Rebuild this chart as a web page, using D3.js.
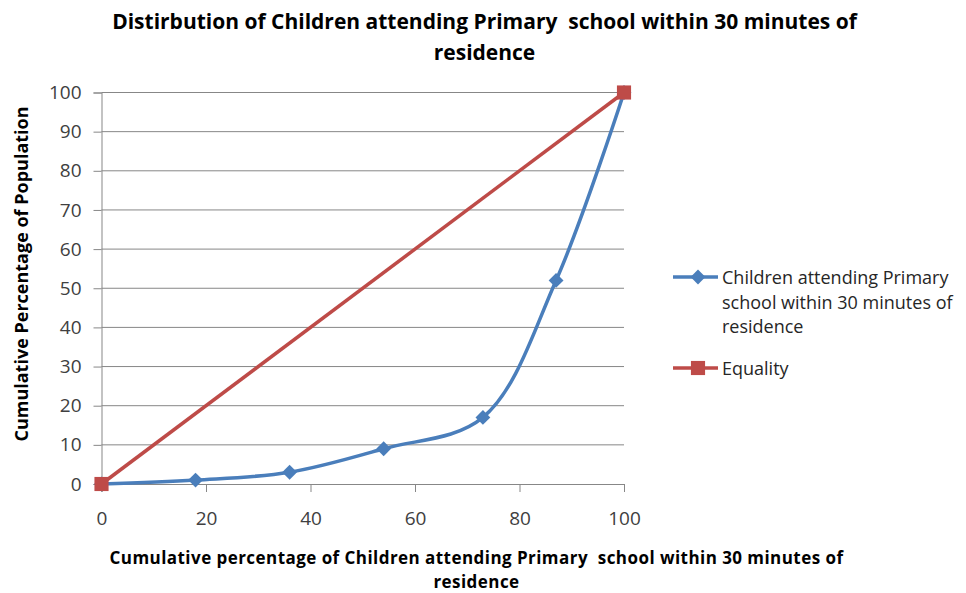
<!DOCTYPE html>
<html>
<head>
<meta charset="utf-8">
<script src="https://cdn.jsdelivr.net/npm/d3@7"></script>
<style>
  body { margin: 0; background: #fff; }
  svg { font-family: "Open Sans", sans-serif; }
</style>
</head>
<body>
<div id="plot"></div>
<script>
var childX = [0, 18, 36, 54, 73, 87, 100];
var childY = [0, 1, 3, 9, 17, 52, 100];
var equalX = [0, 100];
var equalY = [0, 100];
var xTicks = [0, 20, 40, 60, 80, 100];
var yTicks = [0, 10, 20, 30, 40, 50, 60, 70, 80, 90, 100];

var W = 966, H = 593;
var margin = { top: 92.5, left: 101.5, right: 342, bottom: 109 };
var width = W - margin.left - margin.right,
    height = H - margin.top - margin.bottom;

var svg = d3.select("#plot").append("svg")
  .attr("width", W).attr("height", H);

var g = svg.append("g")
  .attr("transform", `translate(${margin.left},${margin.top})`);

var x = d3.scaleLinear().domain([0, 100]).range([0, width]);
var y = d3.scaleLinear().domain([0, 100]).range([height, 0]);

var gridColor = "#878787";

// horizontal gridlines
g.selectAll(".grid")
  .data(yTicks.filter(d => d > 0))
  .join("line")
  .attr("x1", 0).attr("x2", width)
  .attr("y1", d => y(d)).attr("y2", d => y(d))
  .attr("stroke", gridColor).attr("stroke-width", 1);

var yAxis = g.append("g")
  .call(d3.axisLeft(y).tickValues(yTicks).tickSize(8).tickPadding(12));
var xAxis = g.append("g")
  .attr("transform", `translate(0,${height})`)
  .call(d3.axisBottom(x).tickValues(xTicks).tickSize(8).tickPadding(20));

[xAxis, yAxis].forEach(function (a) {
  a.select(".domain").attr("stroke", gridColor);
  a.selectAll(".tick line").attr("stroke", gridColor);
  a.selectAll(".tick text")
    .attr("fill", "#404040")
    .style("font-size", "19px")
    .style("font-family", "'Open Sans', sans-serif");
});

var childData = childX.map((d, i) => ({ x: d, y: childY[i] }));
var equalData = equalX.map((d, i) => ({ x: d, y: equalY[i] }));

var blue = "#4A7EBB", red = "#BE4B48";

g.append("path")
  .datum(equalData)
  .attr("fill", "none")
  .attr("stroke", red)
  .attr("stroke-width", 3.5)
  .attr("d", d3.line().x(d => x(d.x)).y(d => y(d.y)));

g.append("path")
  .datum(childData)
  .attr("fill", "none")
  .attr("stroke", blue)
  .attr("stroke-width", 3.5)
  .attr("d", d3.line().curve(d3.curveCatmullRom.alpha(0.5)).x(d => x(d.x)).y(d => y(d.y)));

// diamond = square turned 45 degrees
var diamond = d3.symbol().type(d3.symbolSquare).size(110);
var square = d3.symbol().type(d3.symbolSquare).size(200);

g.selectAll(".dpt")
  .data(childData)
  .join("path")
  .attr("transform", d => `translate(${x(d.x)},${y(d.y)}) rotate(45)`)
  .attr("d", diamond)
  .attr("fill", blue);

g.selectAll(".spt")
  .data(equalData)
  .join("path")
  .attr("transform", d => `translate(${x(d.x)},${y(d.y)})`)
  .attr("d", square)
  .attr("fill", red);

// title (the typo is in the original)
var title = svg.append("text")
  .attr("text-anchor", "middle")
  .style("font-size", "21px")
  .style("font-weight", "bold")
  .attr("fill", "#000");
title.append("tspan").attr("x", 484.5).attr("y", 29)
  .text("Distirbution of Children attending Primary\u00a0 school within 30 minutes of");
title.append("tspan").attr("x", 484.5).attr("y", 60).text("residence");

// x axis title
var xt = svg.append("text")
  .attr("text-anchor", "middle")
  .style("font-size", "17px")
  .style("font-weight", "bold")
  .style("letter-spacing", "0.45px")
  .attr("fill", "#000");
xt.append("tspan").attr("x", 476.5).attr("y", 564)
  .text("Cumulative percentage of Children attending Primary\u00a0 school within 30 minutes of");
xt.append("tspan").attr("x", 476.5).attr("y", 588).text("residence");

// y axis title
svg.append("text")
  .attr("transform", "translate(28,274) rotate(-90)")
  .attr("text-anchor", "middle")
  .style("font-size", "18px")
  .style("font-weight", "bold")
  .attr("fill", "#000")
  .text("Cumulative Percentage of Population");

// legend
var legend = svg.append("g").attr("transform", "translate(673,0)");
var items = [
  { lines: ["Children attending Primary", "school within 30 minutes of", "residence"], color: blue, sym: diamond, rot: 45, y: 277 },
  { lines: ["Equality"], color: red, sym: square, rot: 0, y: 368 }
];
items.forEach(function (it) {
  legend.append("line")
    .attr("x1", 0).attr("x2", 45)
    .attr("y1", it.y).attr("y2", it.y)
    .attr("stroke", it.color).attr("stroke-width", 3.5);
  legend.append("path")
    .attr("transform", `translate(25,${it.y}) rotate(${it.rot})`)
    .attr("d", it.sym)
    .attr("fill", it.color);
  var t = legend.append("text")
    .style("font-size", "18px")
    .attr("fill", "#262626");
  it.lines.forEach(function (l, i) {
    t.append("tspan").attr("x", 49).attr("y", it.y + 7 + i * 24.5).text(l);
  });
});
</script>
</body>
</html>
